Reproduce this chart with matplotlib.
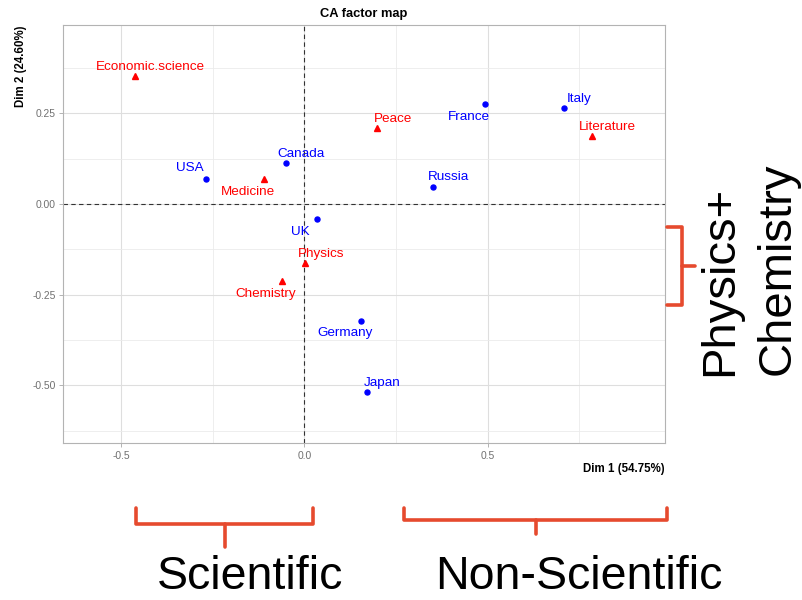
import matplotlib
matplotlib.use("Agg")
import matplotlib.pyplot as plt
from matplotlib.lines import Line2D
from matplotlib.ticker import MultipleLocator

plt.rcParams['font.family'] = ['Liberation Sans', 'DejaVu Sans']

# row points (countries)
countries = ["France", "Italy", "Canada", "USA", "Russia", "UK", "Germany", "Japan"]
country_dim1 = [0.494, 0.708, -0.050, -0.268, 0.352, 0.034, 0.155, 0.172]
country_dim2 = [0.275, 0.265, 0.112, 0.070, 0.048, -0.042, -0.322, -0.519]

# column points (prize categories)
categories = ["Economic.science", "Peace", "Literature", "Medicine", "Physics", "Chemistry"]
cat_dim1 = [-0.462, 0.199, 0.785, -0.109, 0.003, -0.060]
cat_dim2 = [0.353, 0.210, 0.187, 0.068, -0.163, -0.212]

x_ticks = [-0.5, 0.0, 0.5]
y_ticks = [-0.50, -0.25, 0.00, 0.25]

# where each label sits relative to its point
label_side = {
    "France": "dl", "Italy": "ur", "Canada": "ur", "USA": "ul", "Russia": "ur",
    "UK": "dl", "Germany": "dl", "Japan": "ur",
    "Economic.science": "ur", "Peace": "ur", "Literature": "ur",
    "Medicine": "dl", "Physics": "ur", "Chemistry": "dl",
}
side_offset = {"ur": (11.0, 6.6), "dl": (-11.7, -9.2), "ul": (-12.0, 7.7)}

W, H = 802, 600


def fx(px):
    return px / W


def fy(py):
    return 1 - py / H


fig = plt.figure(figsize=(W / 100, H / 100), dpi=100)
ax = fig.add_axes([fx(62.7), fy(443.3), fx(665) - fx(62.7), fy(25.3) - fy(443.3)])

ax.set_xlim(-0.659, 0.984)
ax.set_ylim(-0.660, 0.4926)

# grid, ggplot light style
ax.set_xticks(x_ticks)
ax.set_yticks(y_ticks)
ax.set_xticklabels([f"{v:.1f}" for v in x_ticks])
ax.set_yticklabels([f"{v:.2f}" for v in y_ticks])
ax.xaxis.set_minor_locator(MultipleLocator(0.25))
ax.yaxis.set_minor_locator(MultipleLocator(0.125))
ax.grid(which='major', color='#DEDEDE', linewidth=0.8)
ax.grid(which='minor', color='#EBEBEB', linewidth=0.6)
ax.set_axisbelow(True)
ax.tick_params(which='minor', length=0)
ax.tick_params(which='major', length=3.2, width=0.7, color='#B3B3B3',
               labelsize=7.4, labelcolor='#707070', pad=2)
for sp in ax.spines.values():
    sp.set_color('#B3B3B3')
    sp.set_linewidth(0.8)

ax.axhline(0, color='#333333', linewidth=0.8, linestyle=(0, (4, 3)), zorder=2)
ax.axvline(0, color='#333333', linewidth=0.8, linestyle=(0, (4, 3)), zorder=2)

ax.plot(country_dim1, country_dim2, 'o', color='blue', markersize=3.6, zorder=3)
ax.plot(cat_dim1, cat_dim2, '^', color='red', markersize=4.2, zorder=3)

for name, x, y in zip(countries, country_dim1, country_dim2):
    ax.annotate(name, (x, y), xytext=side_offset[label_side[name]], textcoords='offset points',
                ha='center', va='center', color='blue', fontsize=9.7)
for name, x, y in zip(categories, cat_dim1, cat_dim2):
    ax.annotate(name, (x, y), xytext=side_offset[label_side[name]], textcoords='offset points',
                ha='center', va='center', color='red', fontsize=9.7)

ax.set_title("CA factor map", fontsize=9.3, fontweight='bold', pad=6)
fig.text(fx(665), fy(469), "Dim 1 (54.75%)", ha='right', va='center', fontsize=8.3, fontweight='bold')
fig.text(fx(20.7), fy(25.3), "Dim 2 (24.60%)", ha='center', va='top', rotation=90,
         fontsize=8.3, fontweight='bold')

# hand-drawn brackets around the chart
bracket_color = '#E64A2E'


def bracket(pts):
    xs = [fx(p[0]) for p in pts]
    ys = [fy(p[1]) for p in pts]
    fig.add_artist(Line2D(xs, ys, color=bracket_color, linewidth=2.6,
                          solid_joinstyle='round', solid_capstyle='round'))


bracket([(136, 508), (136, 524), (313, 524), (313, 508)])
bracket([(225, 524), (225, 547)])
bracket([(404, 508), (404, 520), (667, 520), (667, 508)])
bracket([(536, 520), (536, 534)])
bracket([(667, 227), (682, 227), (682, 305), (667, 305)])
bracket([(682, 266), (695, 266)])

fig.text(fx(157), fy(599), "Scientific", fontsize=33.5, ha='left', va='bottom')
fig.text(fx(435), fy(599), "Non-Scientific", fontsize=33.5, ha='left', va='bottom')
fig.text(fx(732), fy(376), "Physics+", fontsize=34, rotation=90, rotation_mode='anchor',
         ha='left', va='baseline')
fig.text(fx(790), fy(375), "Chemistry", fontsize=34, rotation=90, rotation_mode='anchor',
         ha='left', va='baseline')

fig.savefig("out.png", dpi=100)
